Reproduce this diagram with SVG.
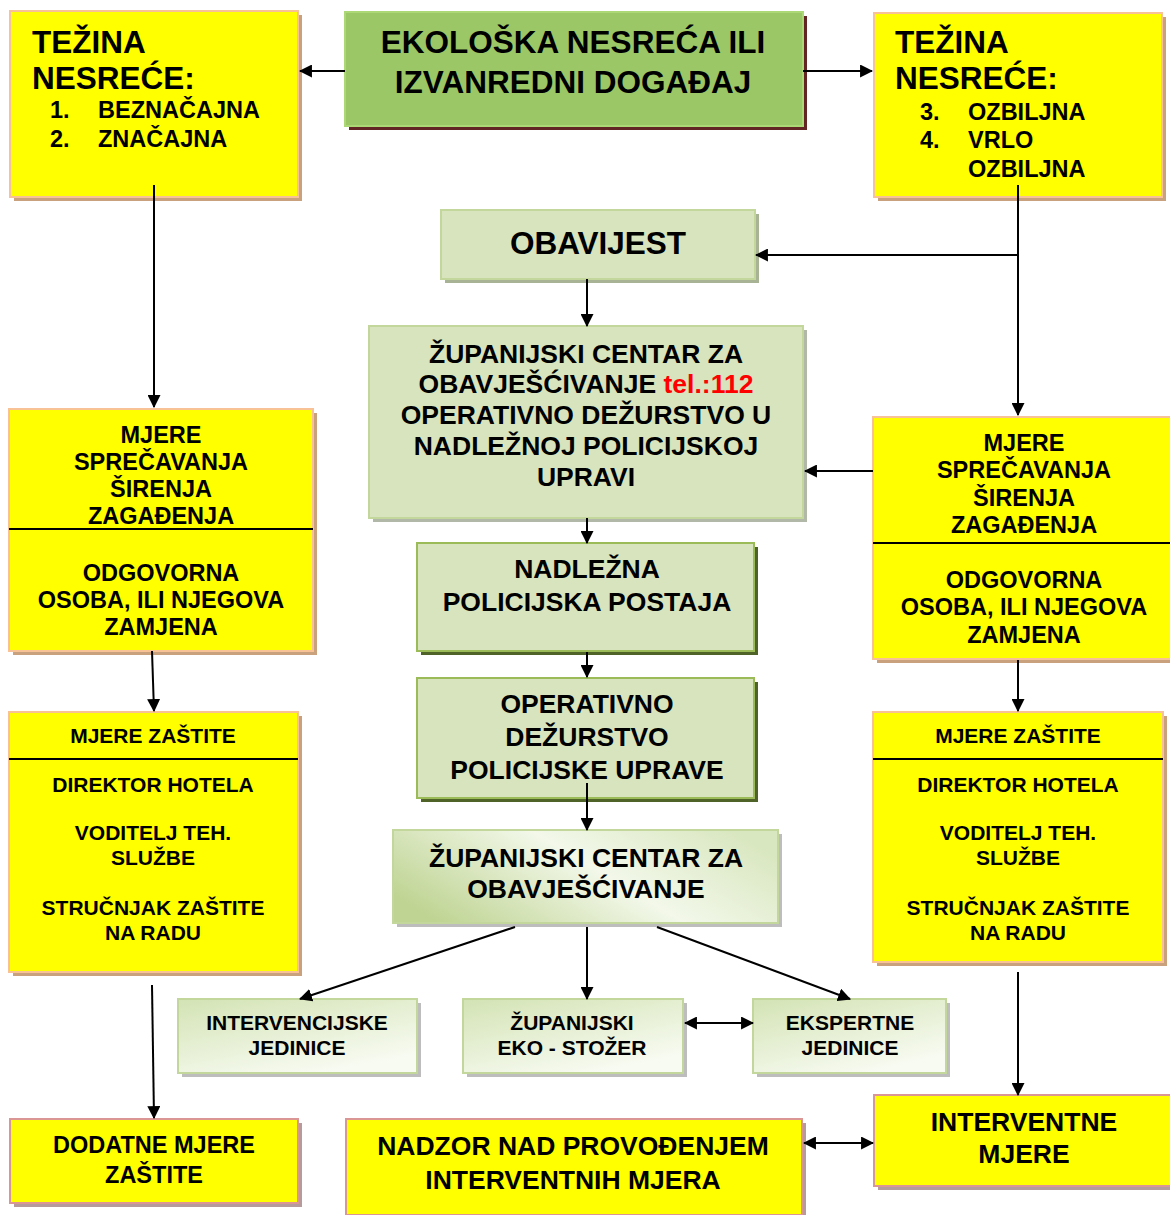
<svg xmlns="http://www.w3.org/2000/svg" width="1170" height="1215" viewBox="0 0 1170 1215">
<defs>
<style>
text{font-family:"Liberation Sans",Arial,sans-serif;font-weight:bold;fill:#000}
.c{text-anchor:middle}
.ybox{fill:#ffff00;stroke:#f9c196;stroke-width:2}
.yshadow{fill:#c9a17d}
.pbox{fill:#ffff00;stroke:#d99694;stroke-width:2}
.pshadow{fill:#b59b9b}
.lg{fill:#d7e4bd;stroke:#c3d69b;stroke-width:2}
.lgshadow{fill:#a8b396}
.dg{fill:#d7e4bd;stroke:#9bbb59;stroke-width:2}
.dgshadow{fill:#4f6228}
.gshadow{fill:#bdbdbd}
.div{stroke:#000;stroke-width:2}
.con{stroke:#000;stroke-width:2;fill:none;marker-end:url(#ah)}
.dbl{stroke:#000;stroke-width:2;fill:none;marker-end:url(#ah);marker-start:url(#ah)}
.t32{font-size:31.5px}
.t26{font-size:26.5px}
.t23{font-size:23.5px}
.t21{font-size:21px}
</style>
<marker id="ah" viewBox="0 0 12 12" refX="11" refY="6" markerWidth="13" markerHeight="13" markerUnits="userSpaceOnUse" orient="auto-start-reverse">
<path d="M0,0 L12,6 L0,12 z" fill="#000"/>
</marker>
<linearGradient id="gBig" x1="0" y1="0.7" x2="1" y2="0.3">
<stop offset="0" stop-color="#bfd493"/>
<stop offset="0.55" stop-color="#f3f8ea"/>
<stop offset="1" stop-color="#d9e7c0"/>
</linearGradient>
<linearGradient id="gSmall" x1="0" y1="0" x2="0.6" y2="1">
<stop offset="0" stop-color="#d3e3b4"/>
<stop offset="1" stop-color="#f8fbf2"/>
</linearGradient>
</defs>

<g id="tezina-left">
<rect class="yshadow" x="14" y="15" width="288" height="186"/>
<rect class="ybox" x="10" y="11" width="288" height="186"/>
<text class="t32" x="32" y="53">TEŽINA</text>
<text class="t32" x="32" y="89">NESREĆE:</text>
<text class="t23" x="50" y="118">1.</text>
<text class="t23" x="98" y="118">BEZNAČAJNA</text>
<text class="t23" x="50" y="147">2.</text>
<text class="t23" x="98" y="147">ZNAČAJNA</text>
</g>

<g id="ekoloska">
<rect fill="#632523" x="349" y="16" width="458" height="114"/>
<rect fill="#9bc766" stroke="#acd876" stroke-width="2" x="345" y="12" width="458" height="114"/>
<text class="c t32" x="573" y="53">EKOLOŠKA NESREĆA ILI</text>
<text class="c t32" x="573" y="93">IZVANREDNI DOGAĐAJ</text>
</g>

<g id="tezina-right">
<rect class="yshadow" x="878" y="17" width="288" height="184"/>
<rect class="ybox" x="874" y="13" width="288" height="184"/>
<text class="t32" x="895" y="53">TEŽINA</text>
<text class="t32" x="895" y="89">NESREĆE:</text>
<text class="t23" x="920" y="120">3.</text>
<text class="t23" x="968" y="120">OZBILJNA</text>
<text class="t23" x="920" y="148">4.</text>
<text class="t23" x="968" y="148">VRLO</text>
<text class="t23" x="968" y="177">OZBILJNA</text>
</g>

<g id="obavijest">
<rect class="lgshadow" x="445" y="214" width="314" height="69"/>
<rect class="lg" x="441" y="210" width="314" height="69"/>
<text class="c t32" x="598" y="254">OBAVIJEST</text>
</g>

<g id="zupanijski-centar-112">
<rect fill="#b2b8a8" x="373" y="330" width="434" height="192"/>
<rect class="lg" x="369" y="326" width="434" height="192"/>
<text class="c t26" x="586" y="363">ŽUPANIJSKI CENTAR ZA</text>
<text class="c t26" x="586" y="393">OBAVJEŠĆIVANJE <tspan fill="#ff0000" style="fill:#ff0000">tel.:112</tspan></text>
<text class="c t26" x="586" y="424">OPERATIVNO DEŽURSTVO U</text>
<text class="c t26" x="586" y="455">NADLEŽNOJ POLICIJSKOJ</text>
<text class="c t26" x="586" y="486">UPRAVI</text>
</g>

<g id="nadlezna">
<rect class="dgshadow" x="421" y="547" width="337" height="108"/>
<rect class="dg" x="417" y="543" width="337" height="108"/>
<text class="c t26" x="587" y="578">NADLEŽNA</text>
<text class="c t26" x="587" y="611">POLICIJSKA POSTAJA</text>
</g>

<g id="operativno">
<rect class="dgshadow" x="421" y="682" width="337" height="120"/>
<rect class="dg" x="417" y="678" width="337" height="120"/>
<text class="c t26" x="587" y="713">OPERATIVNO</text>
<text class="c t26" x="587" y="746">DEŽURSTVO</text>
<text class="c t26" x="587" y="779">POLICIJSKE UPRAVE</text>
</g>

<g id="zupanijski-centar">
<rect class="gshadow" x="397" y="834" width="385" height="93"/>
<rect fill="url(#gBig)" stroke="#c3d69b" stroke-width="2" x="393" y="830" width="385" height="93"/>
<text class="c t26" x="586" y="867">ŽUPANIJSKI CENTAR ZA</text>
<text class="c t26" x="586" y="898">OBAVJEŠĆIVANJE</text>
</g>

<g id="mjere-sprecavanja-left">
<rect class="yshadow" x="13" y="413" width="304" height="242"/>
<rect class="ybox" x="9" y="409" width="304" height="242"/>
<line class="div" x1="9" y1="529" x2="313" y2="529"/>
<text class="c t23" x="161" y="443">MJERE</text>
<text class="c t23" x="161" y="470">SPREČAVANJA</text>
<text class="c t23" x="161" y="497">ŠIRENJA</text>
<text class="c t23" x="161" y="524">ZAGAĐENJA</text>
<text class="c t23" x="161" y="581">ODGOVORNA</text>
<text class="c t23" x="161" y="608">OSOBA, ILI NJEGOVA</text>
<text class="c t23" x="161" y="635">ZAMJENA</text>
</g>

<g id="mjere-sprecavanja-right">
<rect class="yshadow" x="877" y="421" width="300" height="242"/>
<rect class="ybox" x="873" y="417" width="300" height="242"/>
<line class="div" x1="873" y1="543" x2="1170" y2="543"/>
<text class="c t23" x="1024" y="451">MJERE</text>
<text class="c t23" x="1024" y="478">SPREČAVANJA</text>
<text class="c t23" x="1024" y="506">ŠIRENJA</text>
<text class="c t23" x="1024" y="533">ZAGAĐENJA</text>
<text class="c t23" x="1024" y="588">ODGOVORNA</text>
<text class="c t23" x="1024" y="615">OSOBA, ILI NJEGOVA</text>
<text class="c t23" x="1024" y="643">ZAMJENA</text>
</g>

<g id="mjere-zastite-left">
<rect class="yshadow" x="13" y="716" width="289" height="260"/>
<rect class="ybox" x="9" y="712" width="289" height="260"/>
<line class="div" x1="9" y1="759" x2="298" y2="759"/>
<text class="c t21" x="153" y="743">MJERE ZAŠTITE</text>
<text class="c t21" x="153" y="792">DIREKTOR HOTELA</text>
<text class="c t21" x="153" y="840">VODITELJ TEH.</text>
<text class="c t21" x="153" y="865">SLUŽBE</text>
<text class="c t21" x="153" y="915">STRUČNJAK ZAŠTITE</text>
<text class="c t21" x="153" y="940">NA RADU</text>
</g>

<g id="mjere-zastite-right">
<rect class="yshadow" x="877" y="716" width="290" height="250"/>
<rect class="ybox" x="873" y="712" width="290" height="250"/>
<line class="div" x1="873" y1="759" x2="1163" y2="759"/>
<text class="c t21" x="1018" y="743">MJERE ZAŠTITE</text>
<text class="c t21" x="1018" y="792">DIREKTOR HOTELA</text>
<text class="c t21" x="1018" y="840">VODITELJ TEH.</text>
<text class="c t21" x="1018" y="865">SLUŽBE</text>
<text class="c t21" x="1018" y="915">STRUČNJAK ZAŠTITE</text>
<text class="c t21" x="1018" y="940">NA RADU</text>
</g>

<g id="intervencijske">
<rect class="gshadow" x="182" y="1003" width="239" height="74"/>
<rect fill="url(#gSmall)" stroke="#c3d69b" stroke-width="2" x="178" y="999" width="239" height="74"/>
<text class="c t21" x="297" y="1030">INTERVENCIJSKE</text>
<text class="c t21" x="297" y="1055">JEDINICE</text>
</g>

<g id="eko-stozer">
<rect class="gshadow" x="467" y="1003" width="220" height="74"/>
<rect fill="url(#gSmall)" stroke="#c3d69b" stroke-width="2" x="463" y="999" width="220" height="74"/>
<text class="c t21" x="572" y="1030">ŽUPANIJSKI</text>
<text class="c t21" x="572" y="1055">EKO - STOŽER</text>
</g>

<g id="ekspertne">
<rect class="gshadow" x="757" y="1003" width="193" height="74"/>
<rect fill="url(#gSmall)" stroke="#c3d69b" stroke-width="2" x="753" y="999" width="193" height="74"/>
<text class="c t21" x="850" y="1030">EKSPERTNE</text>
<text class="c t21" x="850" y="1055">JEDINICE</text>
</g>

<g id="dodatne">
<rect class="pshadow" x="14" y="1123" width="288" height="84"/>
<rect class="pbox" x="10" y="1119" width="288" height="84"/>
<text class="c t23" x="154" y="1153">DODATNE MJERE</text>
<text class="c t23" x="154" y="1183">ZAŠTITE</text>
</g>

<g id="nadzor">
<rect class="pshadow" x="350" y="1123" width="456" height="96"/>
<rect class="pbox" x="346" y="1119" width="456" height="96"/>
<text class="c t26" x="573" y="1155">NADZOR NAD PROVOĐENJEM</text>
<text class="c t26" x="573" y="1189">INTERVENTNIH MJERA</text>
</g>

<g id="interventne">
<rect class="pshadow" x="878" y="1099" width="296" height="91"/>
<rect class="pbox" x="874" y="1095" width="298" height="91"/>
<text class="c t26" x="1024" y="1131">INTERVENTNE</text>
<text class="c t26" x="1024" y="1163">MJERE</text>
</g>

<g id="connectors">
<line class="con" x1="345" y1="71" x2="300" y2="71"/>
<line class="con" x1="803" y1="71" x2="872" y2="71"/>
<line class="con" x1="154" y1="185" x2="154" y2="407"/>
<line class="con" x1="1018" y1="185" x2="1018" y2="415"/>
<line class="con" x1="1018" y1="255" x2="756" y2="255"/>
<line class="con" x1="587" y1="279" x2="587" y2="326"/>
<line class="con" x1="873" y1="471" x2="805" y2="471"/>
<line class="con" x1="587" y1="518" x2="587" y2="543"/>
<line class="con" x1="587" y1="652" x2="587" y2="677"/>
<line class="con" x1="587" y1="783" x2="587" y2="830"/>
<line class="con" x1="515" y1="927" x2="300" y2="999"/>
<line class="con" x1="587" y1="927" x2="587" y2="999"/>
<line class="con" x1="657" y1="927" x2="850" y2="999"/>
<line class="dbl" x1="685" y1="1023" x2="753" y2="1023"/>
<line class="con" x1="152" y1="651" x2="154" y2="711"/>
<line class="con" x1="152" y1="985" x2="154" y2="1118"/>
<line class="con" x1="1018" y1="660" x2="1018" y2="711"/>
<line class="con" x1="1018" y1="972" x2="1018" y2="1095"/>
<line class="dbl" x1="804" y1="1143" x2="873" y2="1143"/>
</g>
</svg>
